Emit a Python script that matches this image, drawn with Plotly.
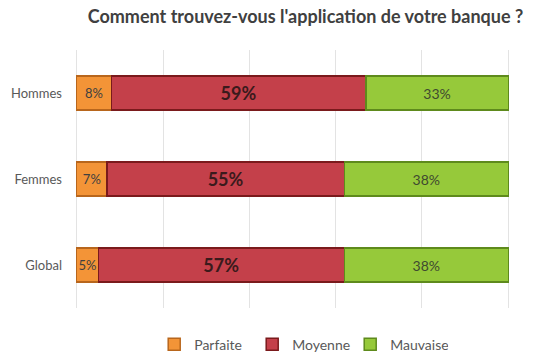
import plotly.graph_objects as go

categories = ["Global", "Femmes", "Hommes"]
parfaite = [5, 7, 8]
moyenne = [57, 55, 59]
mauvaise = [38, 38, 33]
series_names = ["Parfaite", "Moyenne", "Mauvaise"]
tick_vals = [0, 20, 40, 60, 80, 100]

FONT = "Lato, Open Sans, sans-serif"
colors = ["#F39437", "#C4404A", "#96C93A"]
line_colors = ["#B8661C", "#7A1A1C", "#5E8A1C"]
label_fonts = [
    dict(size=13, color="#404040", family=FONT),
    dict(size=18, color="#3A1A1C", family=FONT, weight="bold"),
    dict(size=14, color="#3F4A30", family=FONT),
]

fig = go.Figure()
for name, vals, col, lc, lf in zip(series_names, [parfaite, moyenne, mauvaise], colors, line_colors, label_fonts):
    fig.add_trace(go.Bar(
        name=name, y=categories, x=vals, orientation="h",
        marker=dict(color=col, line=dict(color=lc, width=1.5)),
        text=[f"{v}%" for v in vals], textposition="inside", textangle=0,
        insidetextanchor="middle", textfont=lf, constraintext="none",
        width=0.4,
    ))

fig.update_layout(
    barmode="stack",
    width=535, height=361,
    margin=dict(l=75, r=25, t=50, b=53, autoexpand=False),
    paper_bgcolor="white", plot_bgcolor="white",
    title=dict(text="<b>Comment trouvez-vous l'application de votre banque ?</b>",
               x=0.571, xanchor="center", y=0.953, yanchor="middle",
               font=dict(size=18, color="#404040", family=FONT)),
    xaxis=dict(range=[-0.4, 100.4], tickvals=tick_vals, showticklabels=False,
               showgrid=True, gridcolor="#E3E3E3", gridwidth=1, zeroline=False,
               showline=False, fixedrange=True, automargin=False),
    yaxis=dict(tickfont=dict(size=13, color="#595959", family=FONT),
               ticks="", ticklabelstandoff=12, showline=False, showgrid=False,
               automargin=False),
    legend=dict(orientation="h", x=0.52, xanchor="center", y=-0.08, yanchor="top",
                font=dict(size=14, color="#595959", family=FONT),
                itemwidth=30, entrywidth=53, entrywidthmode="pixels",
                traceorder="normal"),
    showlegend=True,
)

fig.write_html("out.html", config={"displayModeBar": False},
               post_script="document.body.style.margin='0';document.body.style.overflow='hidden';")
